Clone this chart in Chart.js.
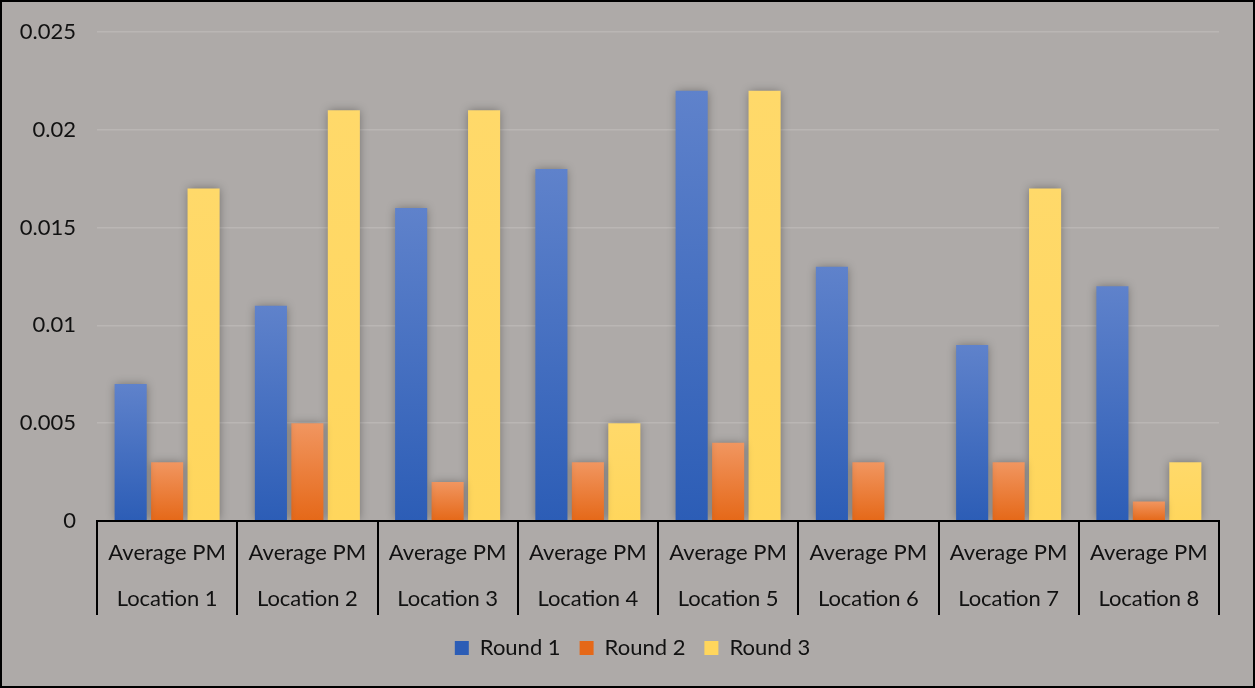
<!DOCTYPE html>
<html>
<head>
<meta charset="utf-8">
<script src="https://cdn.jsdelivr.net/npm/chart.js@4/dist/chart.umd.min.js"></script>
<style>
  html, body { margin: 0; padding: 0; background: #aeaaa8; }
  #wrap { position: relative; width: 1255px; height: 688px; box-sizing: border-box; border: 2px solid #000; }
  canvas { display: block; }
</style>
</head>
<body>
<div id="wrap"><canvas id="c" width="1251" height="684"></canvas></div>
<script>
// Average PM readings per location, three measurement rounds
const groupLabel = 'Average PM';
const locations = ['Location 1', 'Location 2', 'Location 3', 'Location 4', 'Location 5', 'Location 6', 'Location 7', 'Location 8'];
const round1 = [0.007, 0.011, 0.016, 0.018, 0.022, 0.013, 0.009, 0.012];
const round2 = [0.003, 0.005, 0.002, 0.003, 0.004, 0.003, 0.003, 0.001];
const round3 = [0.017, 0.021, 0.021, 0.005, 0.022, 0, 0.017, 0.003];
const seriesNames = ['Round 1', 'Round 2', 'Round 3'];
const yTicks = [0, 0.005, 0.01, 0.015, 0.02, 0.025];

const FONT = 'Lato, "Open Sans", sans-serif';

// vertical gradient per bar, light at the top, deeper at the base
function barFill(light, dark, solid) {
  return (ctx) => {
    if (ctx.type !== 'data') return solid;
    const chart = ctx.chart;
    if (!chart.chartArea) return solid;
    const y = chart.scales.y;
    const top = y.getPixelForValue(ctx.raw);
    const base = y.getPixelForValue(0);
    if (!isFinite(top) || Math.abs(base - top) < 1) return solid;
    const g = chart.ctx.createLinearGradient(0, top, 0, base);
    g.addColorStop(0, light);
    g.addColorStop(1, dark);
    return g;
  };
}

// soft shadow around the bars
const barShadow = {
  id: 'barShadow',
  beforeDatasetsDraw(chart) {
    const c = chart.ctx;
    c.save();
    c.shadowColor = 'rgba(0,0,0,0.35)';
    c.shadowBlur = 9;
    c.shadowOffsetX = 0;
    c.shadowOffsetY = 0;
  },
  afterDatasetsDraw(chart) {
    chart.ctx.restore();
  }
};

// two-level category axis: baseline plus dividers between locations
const categoryFrame = {
  id: 'categoryFrame',
  afterDraw(chart) {
    const c = chart.ctx;
    const x = chart.scales.x;
    const area = chart.chartArea;
    const depth = 94;
    c.save();
    c.strokeStyle = '#000';
    c.lineWidth = 2;
    c.beginPath();
    c.moveTo(x.left - 1, area.bottom);
    c.lineTo(x.right + 1, area.bottom);
    for (let i = 0; i <= locations.length; i++) {
      const px = Math.round(x.getPixelForValue(i - 0.5));
      c.moveTo(px, area.bottom);
      c.lineTo(px, area.bottom + depth);
    }
    c.stroke();
    c.restore();
  }
};

// nudge the legend row a little to the right of the canvas centre
const legendNudge = {
  id: 'legendNudge',
  afterLayout(chart) {
    const lg = chart.legend;
    if (!lg || lg._nudged) return;
    const draw = lg.draw.bind(lg);
    lg.draw = function () {
      chart.ctx.save();
      chart.ctx.translate(22, 0);
      draw();
      chart.ctx.restore();
    };
    lg._nudged = true;
  }
};

new Chart(document.getElementById('c'), {
  type: 'bar',
  data: {
    labels: locations.map(l => [groupLabel, l]),
    datasets: [
      { label: seriesNames[0], data: round1, backgroundColor: barFill('#5f82cb', '#2c5db6', '#3f69c0') },
      { label: seriesNames[1], data: round2, backgroundColor: barFill('#f19660', '#e56818', '#ec7a30') },
      { label: seriesNames[2], data: round3, backgroundColor: barFill('#ffd96a', '#ffd65c', '#ffd866') }
    ]
  },
  options: {
    responsive: false,
    animation: false,
    devicePixelRatio: 1,
    layout: { padding: { left: 0, right: 34, top: 30, bottom: 17 } },
    datasets: { bar: { categoryPercentage: 0.78, barPercentage: 0.88, borderWidth: 0 } },
    plugins: {
      legend: {
        position: 'bottom',
        labels: {
          font: { family: FONT, size: 22 },
          color: '#111',
          boxWidth: 14,
          boxHeight: 14,
          padding: 19
        }
      },
      tooltip: { enabled: false }
    },
    scales: {
      x: {
        grid: { display: false, drawTicks: false },
        border: { display: false },
        ticks: {
          color: '#111',
          font: { family: FONT, size: 22, lineHeight: 2.1 },
          padding: 9,
          maxRotation: 0,
          autoSkip: false
        },
        afterFit(s) { s.height = 97; }
      },
      y: {
        min: 0,
        max: 0.025,
        afterBuildTicks(s) { s.ticks = yTicks.map(v => ({ value: v })); },
        grid: { color: '#bab6b4', lineWidth: 1.5, drawTicks: false },
        border: { display: false },
        ticks: {
          color: '#111',
          font: { family: FONT, size: 22 },
          padding: 21,
          callback: (v) => String(v)
        },
        afterFit(s) {
          s.width = 95;
          s.paddingTop = 0;
          s.paddingBottom = 0;
        }
      }
    }
  },
  plugins: [barShadow, categoryFrame, legendNudge]
});
</script>
</body>
</html>
